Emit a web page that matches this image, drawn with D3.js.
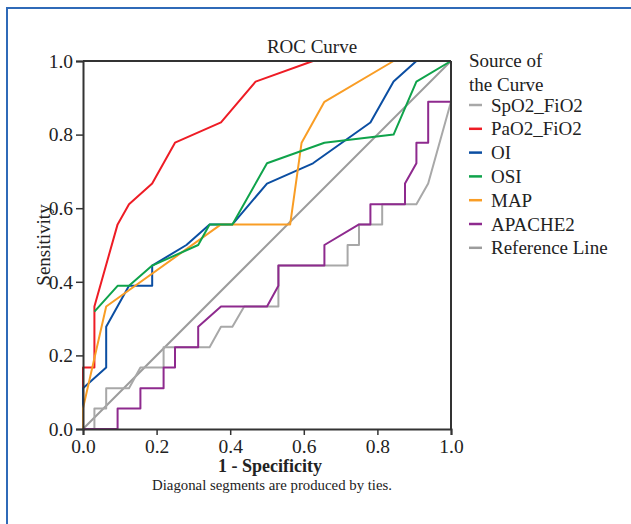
<!DOCTYPE html>
<html>
<head>
<meta charset="utf-8">
<script src="https://cdn.jsdelivr.net/npm/d3@7"></script>
<style>
  body { margin: 0; background: #fff; }
  text { font-family: "Liberation Serif", "Times New Roman", serif; fill: #222; }
</style>
</head>
<body>
<script>
/* ROC curves (x = 1 - specificity, y = sensitivity) */

var spo2 = [[0,0],[0.031,0],[0.031,0.056],[0.063,0.056],[0.063,0.111],[0.125,0.111],[0.156,0.167],
	[0.219,0.167],[0.219,0.222],[0.344,0.222],[0.375,0.278],[0.406,0.278],[0.438,0.333],[0.531,0.333],
	[0.531,0.444],[0.719,0.444],[0.719,0.5],[0.75,0.5],[0.75,0.556],[0.813,0.556],[0.813,0.611],
	[0.906,0.611],[0.938,0.667],[1,0.889],[1,1]];
var pao2 = [[0,0],[0,0.167],[0.031,0.167],[0.031,0.333],[0.094,0.556],[0.125,0.611],[0.188,0.667],
	[0.25,0.778],[0.375,0.833],[0.469,0.944],[0.625,1],[1,1]];
var oi = [[0,0],[0,0.111],[0.063,0.167],[0.063,0.278],[0.125,0.389],[0.188,0.389],[0.188,0.444],
	[0.281,0.5],[0.344,0.556],[0.406,0.556],[0.5,0.667],[0.625,0.722],[0.781,0.833],[0.844,0.944],
	[0.906,1],[1,1]];
var osi = [[0.031,0.319],[0.094,0.389],[0.125,0.389],[0.188,0.444],[0.313,0.5],[0.344,0.556],
	[0.406,0.556],[0.5,0.722],[0.656,0.778],[0.844,0.8],[0.906,0.944],[1,1]];
var map = [[0,0],[0,0.056],[0.063,0.333],[0.375,0.556],[0.563,0.556],[0.594,0.778],[0.656,0.889],
	[0.844,1],[1,1]];
var apache2 = [[0,0],[0.094,0],[0.094,0.056],[0.156,0.056],[0.156,0.111],[0.219,0.111],[0.219,0.167],
	[0.25,0.167],[0.25,0.222],[0.313,0.222],[0.313,0.278],[0.375,0.333],[0.5,0.333],[0.531,0.389],
	[0.531,0.444],[0.656,0.444],[0.656,0.5],[0.75,0.556],[0.781,0.556],[0.781,0.611],[0.875,0.611],
	[0.875,0.667],[0.906,0.722],[0.906,0.778],[0.938,0.778],[0.938,0.889],[1,0.889],[1,1]];
var refLine = [[0,0],[1,1]];

var seriesNames = ["SpO2_FiO2","PaO2_FiO2","OI","OSI","MAP","APACHE2","Reference Line"];
var seriesData = [spo2, pao2, oi, osi, map, apache2, refLine];
var seriesColors = ["#a8a8a8","#ee1c25","#0b4ea2","#0fa34b","#f99d25","#8e2a8e","#9c9c9c"];
var ticks = [0, 0.2, 0.4, 0.6, 0.8, 1.0];

var widthMax = 631;
var heightMax = 524;

var svg = d3.select("body").append("svg")
	.attr("width", widthMax)
	.attr("height", heightMax);

svg.append("rect")
	.attr("width", widthMax).attr("height", heightMax)
	.attr("fill", "#fff");

// blue frame (only left + top visible)
svg.append("rect")
	.attr("x", 7).attr("y", 8)
	.attr("width", 700).attr("height", 600)
	.attr("fill", "none")
	.attr("stroke", "#2f6ab8")
	.attr("stroke-width", 2);

var x = d3.scaleLinear().domain([0, 1]).range([83, 451]);
var y = d3.scaleLinear().domain([0, 1]).range([429, 61]);

var line = d3.line()
	.x(function(d) { return x(d[0]); })
	.y(function(d) { return y(d[1]); });

// curves: reference first, then steps
var order = [6, 0, 1, 2, 4, 3, 5];
order.forEach(function(i) {
	svg.append("path")
		.datum(seriesData[i])
		.attr("d", line)
		.attr("fill", "none")
		.attr("stroke", seriesColors[i])
		.attr("stroke-width", 2)
		.attr("stroke-linejoin", "round");
});

// box top + right
svg.append("line")
	.attr("x1", x(0)).attr("y1", y(1)).attr("x2", x(1)).attr("y2", y(1))
	.attr("stroke", "#333").attr("stroke-width", 2);
svg.append("line")
	.attr("x1", x(1)).attr("y1", y(1)).attr("x2", x(1)).attr("y2", y(0))
	.attr("stroke", "#333").attr("stroke-width", 2);

var xAxis = svg.append("g")
	.attr("transform", "translate(0," + y(0) + ")")
	.call(d3.axisBottom(x).tickValues(ticks).tickFormat(d3.format(".1f")).tickSize(6).tickPadding(4));
var yAxis = svg.append("g")
	.attr("transform", "translate(" + x(0) + ",0)")
	.call(d3.axisLeft(y).tickValues(ticks).tickFormat(d3.format(".1f")).tickSize(7).tickPadding(3));

[xAxis, yAxis].forEach(function(g) {
	g.select(".domain").attr("stroke", "#333").attr("stroke-width", 2);
	g.selectAll(".tick line").attr("stroke", "#333").attr("stroke-width", 1.5);
	g.selectAll(".tick text")
		.attr("font-family", "Liberation Serif, serif")
		.attr("font-size", 19.5)
		.attr("fill", "#222");
});

// titles
svg.append("text")
	.attr("x", 312).attr("y", 53)
	.attr("text-anchor", "middle")
	.attr("font-size", 19)
	.text("ROC Curve");

svg.append("text")
	.attr("x", 270).attr("y", 472)
	.attr("text-anchor", "middle")
	.attr("font-size", 18)
	.attr("font-weight", "bold")
	.text("1 - Specificity");

svg.append("text")
	.attr("x", 272).attr("y", 490)
	.attr("text-anchor", "middle")
	.attr("font-size", 14.8)
	.text("Diagonal segments are produced by ties.");

svg.append("text")
	.attr("transform", "translate(50,245) rotate(-90)")
	.attr("text-anchor", "middle")
	.attr("font-size", 19)
	.text("Sensitivity");

// legend
var legend = svg.append("g");
legend.append("text").attr("x", 469).attr("y", 67).attr("font-size", 19).text("Source of");
legend.append("text").attr("x", 469).attr("y", 91).attr("font-size", 19).text("the Curve");

seriesNames.forEach(function(name, i) {
	var cy = 105 + i * 23.8;
	legend.append("line")
		.attr("x1", 469).attr("x2", 482)
		.attr("y1", cy).attr("y2", cy)
		.attr("stroke", seriesColors[i])
		.attr("stroke-width", 2.5);
	legend.append("text")
		.attr("x", 491).attr("y", cy + 6.5)
		.attr("font-size", 19)
		.text(name);
});
</script>
</body>
</html>
